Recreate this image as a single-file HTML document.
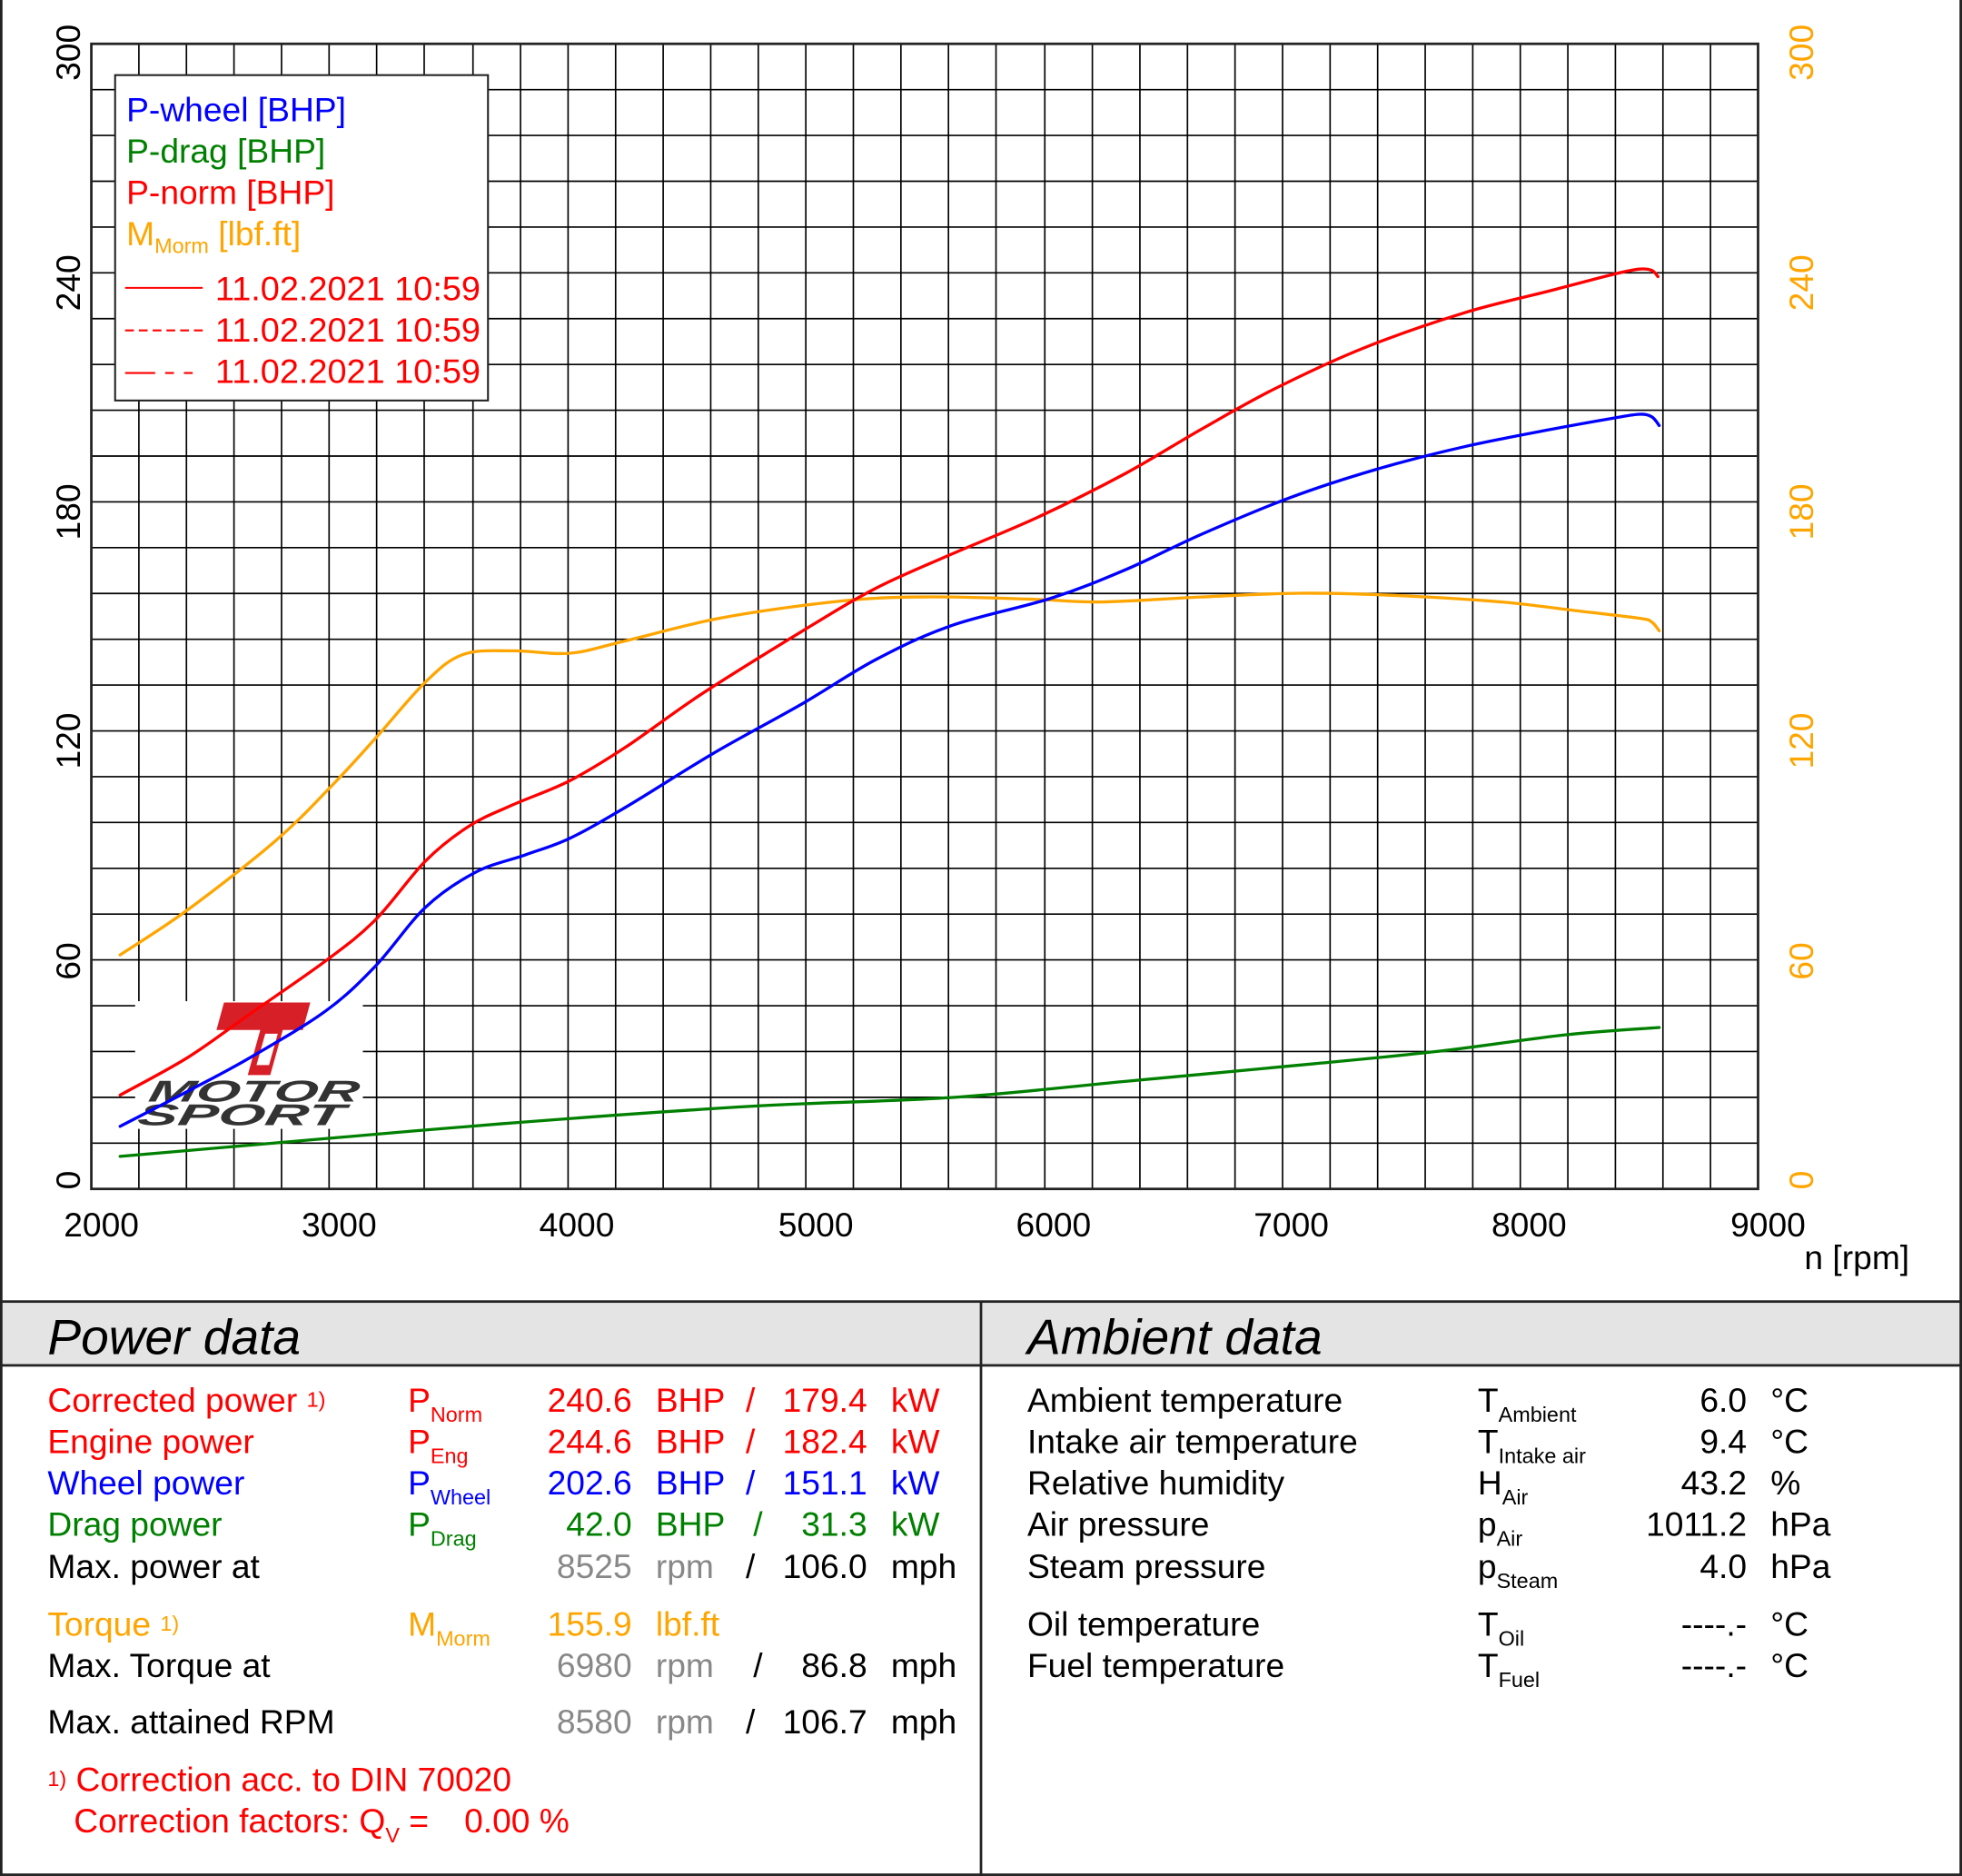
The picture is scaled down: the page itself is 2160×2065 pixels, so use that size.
<!DOCTYPE html>
<html><head><meta charset="utf-8"><style>
html,body{margin:0;padding:0;background:#fff}
svg{display:block}
text{font-family:"Liberation Sans",Arial,sans-serif}
</style></head><body>
<svg width="2160" height="2065" viewBox="0 0 1568 1499" xmlns="http://www.w3.org/2000/svg">
<rect x="0" y="0" width="1568" height="1499" fill="#fff"/>
<rect x="1" y="-2" width="1566" height="1500" fill="none" stroke="#222" stroke-width="2"/>
<g id="grid" stroke="#000" stroke-width="1.2">
<path d="M111,35V950M149,35V950M187,35V950M225,35V950M263,35V950M301,35V950M339,35V950M378,35V950M416,35V950M454,35V950M492,35V950M530,35V950M568,35V950M606,35V950M644,35V950M682,35V950M720,35V950M758,35V950M796,35V950M835,35V950M873,35V950M911,35V950M949,35V950M987,35V950M1025,35V950M1063,35V950M1101,35V950M1139,35V950M1177,35V950M1215,35V950M1253,35V950M1291,35V950M1329,35V950M1367,35V950"/>
<path d="M73,71.6H1405M73,108.2H1405M73,144.8H1405M73,181.4H1405M73,218H1405M73,254.6H1405M73,291.2H1405M73,327.8H1405M73,364.4H1405M73,401H1405M73,437.6H1405M73,474.2H1405M73,510.8H1405M73,547.4H1405M73,584H1405M73,620.6H1405M73,657.2H1405M73,693.8H1405M73,730.4H1405M73,767H1405M73,803.6H1405M73,840.2H1405M73,876.8H1405M73,913.4H1405"/>
</g>
<rect x="73" y="35" width="1332" height="915" fill="none" stroke="#222" stroke-width="2"/>
<!-- logo -->
<rect x="108" y="800" width="182" height="102" fill="#fff"/>
<polygon points="179,801 248,801 242,823 226,823 216,859 198,859 208,823 173,823" fill="#d71f27"/>
<polygon points="212,826 222,826 215,851 205,851" fill="#fff"/>
<text x="202" y="880" font-size="24" font-weight="bold" font-style="italic" fill="#333" text-anchor="middle" textLength="168" lengthAdjust="spacingAndGlyphs" transform="skewX(-10) translate(155,0)">MOTOR</text>
<text x="192" y="899" font-size="24" font-weight="bold" font-style="italic" fill="#333" text-anchor="middle" textLength="165" lengthAdjust="spacingAndGlyphs" transform="skewX(-10) translate(158,0)">SPORT</text>
<!-- curves -->
<g fill="none" stroke-width="2.4" stroke-linejoin="round" stroke-linecap="round">
<polyline class="sm" stroke="#ffa500" points="96,763 150,727 220,672 265,628 300,590 340,545 370,523 410,520 455,522 500,512 570,495 640,484 700,478 760,477 830,479 880,481 960,477 1040,474 1120,476 1200,481 1260,488 1310,494 1320,497 1326,504"/>
<polyline class="sm" stroke="#008000" points="96,924 200,915 400,898 600,884 760,877 900,864 1050,850 1150,840 1250,827 1326,821"/>
<polyline class="sm" stroke="#0000ff" points="96,900 150,872 200,845 260,808 300,772 340,725 380,697 420,683 455,670 500,645 570,602 640,563 700,527 760,500 840,478 900,455 960,427 1030,398 1100,375 1170,357 1240,343 1290,334 1310,331 1320,333 1326,340"/>
<polyline class="sm" stroke="#ff0000" points="96,875 150,845 200,810 260,768 300,735 340,688 375,660 410,643 455,624 500,597 560,555 640,505 700,470 760,443 830,413 900,378 960,343 1020,310 1090,278 1170,250 1240,232 1290,219 1310,215 1320,216 1325,221"/>
</g>
<!-- legend -->
<rect x="92" y="60" width="298" height="260" fill="#fff" stroke="#222" stroke-width="1.5"/>
<g font-size="27">
<text x="101" y="97" fill="#0000ff">P-wheel [BHP]</text>
<text x="101" y="130" fill="#008000">P-drag [BHP]</text>
<text x="101" y="163" fill="#ff0000">P-norm [BHP]</text>
<text x="101" y="196" fill="#ffa500">M<tspan font-size="17" dy="6">Morm</tspan><tspan dy="-6"> [lbf.ft]</tspan></text>
<text x="172" y="240" fill="#ff0000" textLength="212" lengthAdjust="spacingAndGlyphs">11.02.2021 10:59</text>
<text x="172" y="273" fill="#ff0000" textLength="212" lengthAdjust="spacingAndGlyphs">11.02.2021 10:59</text>
<text x="172" y="306" fill="#ff0000" textLength="212" lengthAdjust="spacingAndGlyphs">11.02.2021 10:59</text>
</g>
<g stroke="#ff0000" stroke-width="1.5">
<line x1="100" y1="230" x2="162" y2="230"/>
<line x1="100" y1="264" x2="162" y2="264" stroke-dasharray="7,4"/>
<line x1="100" y1="298" x2="162" y2="298" stroke-dasharray="24,8,7,8,7,8"/>
</g>
<!-- axis labels -->
<g font-size="27" fill="#000" text-anchor="middle">
<text transform="translate(64,42) rotate(-90)">300</text>
<text transform="translate(64,226) rotate(-90)">240</text>
<text transform="translate(64,409) rotate(-90)">180</text>
<text transform="translate(64,592) rotate(-90)">120</text>
<text transform="translate(64,768) rotate(-90)">60</text>
<text transform="translate(64,943) rotate(-90)">0</text>
</g>
<g font-size="27" fill="#ffa500" text-anchor="middle">
<text transform="translate(1449,42) rotate(-90)">300</text>
<text transform="translate(1449,226) rotate(-90)">240</text>
<text transform="translate(1449,409) rotate(-90)">180</text>
<text transform="translate(1449,592) rotate(-90)">120</text>
<text transform="translate(1449,768) rotate(-90)">60</text>
<text transform="translate(1449,943) rotate(-90)">0</text>
</g>
<g font-size="27" fill="#000" text-anchor="middle">
<text x="81" y="988">2000</text><text x="271" y="988">3000</text><text x="461" y="988">4000</text><text x="652" y="988">5000</text><text x="842" y="988">6000</text><text x="1032" y="988">7000</text><text x="1222" y="988">8000</text><text x="1413" y="988">9000</text>
<text x="1484" y="1014">n [rpm]</text>
</g>
<!-- panels -->
<rect x="1" y="1040" width="1566" height="51" fill="#e4e4e4" stroke="#222" stroke-width="2"/>
<line x1="784" y1="1040" x2="784" y2="1499" stroke="#222" stroke-width="2"/>
<g font-size="40" font-style="italic" fill="#000">
<text x="38" y="1082">Power data</text>
<text x="821" y="1082">Ambient data</text>
</g>
<g font-size="27">
<g fill="#ff0000">
<text x="38" y="1128">Corrected power <tspan font-size="17" dy="-4">1)</tspan></text>
<text x="326" y="1128">P<tspan font-size="17" dy="8">Norm</tspan></text>
<text x="505" y="1128" text-anchor="end">240.6</text><text x="524" y="1128">BHP</text><text x="596" y="1128">/</text><text x="693" y="1128" text-anchor="end">179.4</text><text x="712" y="1128">kW</text>
<text x="38" y="1161">Engine power</text>
<text x="326" y="1161">P<tspan font-size="17" dy="8">Eng</tspan></text>
<text x="505" y="1161" text-anchor="end">244.6</text><text x="524" y="1161">BHP</text><text x="596" y="1161">/</text><text x="693" y="1161" text-anchor="end">182.4</text><text x="712" y="1161">kW</text>
</g>
<g fill="#0000ff">
<text x="38" y="1194">Wheel power</text>
<text x="326" y="1194">P<tspan font-size="17" dy="8">Wheel</tspan></text>
<text x="505" y="1194" text-anchor="end">202.6</text><text x="524" y="1194">BHP</text><text x="596" y="1194">/</text><text x="693" y="1194" text-anchor="end">151.1</text><text x="712" y="1194">kW</text>
</g>
<g fill="#008000">
<text x="38" y="1227">Drag power</text>
<text x="326" y="1227">P<tspan font-size="17" dy="8">Drag</tspan></text>
<text x="505" y="1227" text-anchor="end">42.0</text><text x="524" y="1227">BHP</text><text x="602" y="1227">/</text><text x="693" y="1227" text-anchor="end">31.3</text><text x="712" y="1227">kW</text>
</g>
<text x="38" y="1261">Max. power at</text>
<text x="505" y="1261" text-anchor="end" fill="#888">8525</text><text x="524" y="1261" fill="#888">rpm</text><text x="596" y="1261">/</text><text x="693" y="1261" text-anchor="end">106.0</text><text x="712" y="1261">mph</text>
<g fill="#ffa500">
<text x="38" y="1307">Torque <tspan font-size="17" dy="-4">1)</tspan></text>
<text x="326" y="1307">M<tspan font-size="17" dy="8">Morm</tspan></text>
<text x="505" y="1307" text-anchor="end">155.9</text><text x="524" y="1307">lbf.ft</text>
</g>
<text x="38" y="1340">Max. Torque at</text>
<text x="505" y="1340" text-anchor="end" fill="#888">6980</text><text x="524" y="1340" fill="#888">rpm</text><text x="602" y="1340">/</text><text x="693" y="1340" text-anchor="end">86.8</text><text x="712" y="1340">mph</text>
<text x="38" y="1385">Max. attained RPM</text>
<text x="505" y="1385" text-anchor="end" fill="#888">8580</text><text x="524" y="1385" fill="#888">rpm</text><text x="596" y="1385">/</text><text x="693" y="1385" text-anchor="end">106.7</text><text x="712" y="1385">mph</text>
<g fill="#ff0000">
<text x="38" y="1431"><tspan font-size="17" dy="-4">1)</tspan><tspan dy="4"> Correction acc. to DIN 70020</tspan></text>
<text x="59" y="1464">Correction factors: Q<tspan font-size="17" dy="8">V</tspan><tspan dy="-8"> =</tspan></text>
<text x="371" y="1464">0.00 %</text>
</g>
<!-- ambient -->
<text x="821" y="1128">Ambient temperature</text>
<text x="1181" y="1128">T<tspan font-size="17" dy="8">Ambient</tspan></text>
<text x="1396" y="1128" text-anchor="end">6.0</text><text x="1415" y="1128">°C</text>
<text x="821" y="1161">Intake air temperature</text>
<text x="1181" y="1161">T<tspan font-size="17" dy="8">Intake air</tspan></text>
<text x="1396" y="1161" text-anchor="end">9.4</text><text x="1415" y="1161">°C</text>
<text x="821" y="1194">Relative humidity</text>
<text x="1181" y="1194">H<tspan font-size="17" dy="8">Air</tspan></text>
<text x="1396" y="1194" text-anchor="end">43.2</text><text x="1415" y="1194">%</text>
<text x="821" y="1227">Air pressure</text>
<text x="1181" y="1227">p<tspan font-size="17" dy="8">Air</tspan></text>
<text x="1396" y="1227" text-anchor="end">1011.2</text><text x="1415" y="1227">hPa</text>
<text x="821" y="1261">Steam pressure</text>
<text x="1181" y="1261">p<tspan font-size="17" dy="8">Steam</tspan></text>
<text x="1396" y="1261" text-anchor="end">4.0</text><text x="1415" y="1261">hPa</text>
<text x="821" y="1307">Oil temperature</text>
<text x="1181" y="1307">T<tspan font-size="17" dy="8">Oil</tspan></text>
<text x="1396" y="1307" text-anchor="end">----.-</text><text x="1415" y="1307">°C</text>
<text x="821" y="1340">Fuel temperature</text>
<text x="1181" y="1340">T<tspan font-size="17" dy="8">Fuel</tspan></text>
<text x="1396" y="1340" text-anchor="end">----.-</text><text x="1415" y="1340">°C</text>
</g>
</svg>
<script>
document.querySelectorAll('polyline.sm').forEach(function(pl){
  var p=pl.getAttribute('points').trim().split(/\s+/).map(function(s){return s.split(',').map(Number);});
  var d='M'+p[0][0]+','+p[0][1];
  for(var i=0;i<p.length-1;i++){
    var p0=p[i-1]||p[i],p1=p[i],p2=p[i+1],p3=p[i+2]||p2;
    var c1x=p1[0]+(p2[0]-p0[0])/6,c1y=p1[1]+(p2[1]-p0[1])/6;
    var c2x=p2[0]-(p3[0]-p1[0])/6,c2y=p2[1]-(p3[1]-p1[1])/6;
    d+='C'+c1x.toFixed(1)+','+c1y.toFixed(1)+' '+c2x.toFixed(1)+','+c2y.toFixed(1)+' '+p2[0]+','+p2[1];
  }
  var path=document.createElementNS('http://www.w3.org/2000/svg','path');
  path.setAttribute('d',d);path.setAttribute('stroke',pl.getAttribute('stroke'));
  pl.parentNode.replaceChild(path,pl);
});
</script>
</body></html>
